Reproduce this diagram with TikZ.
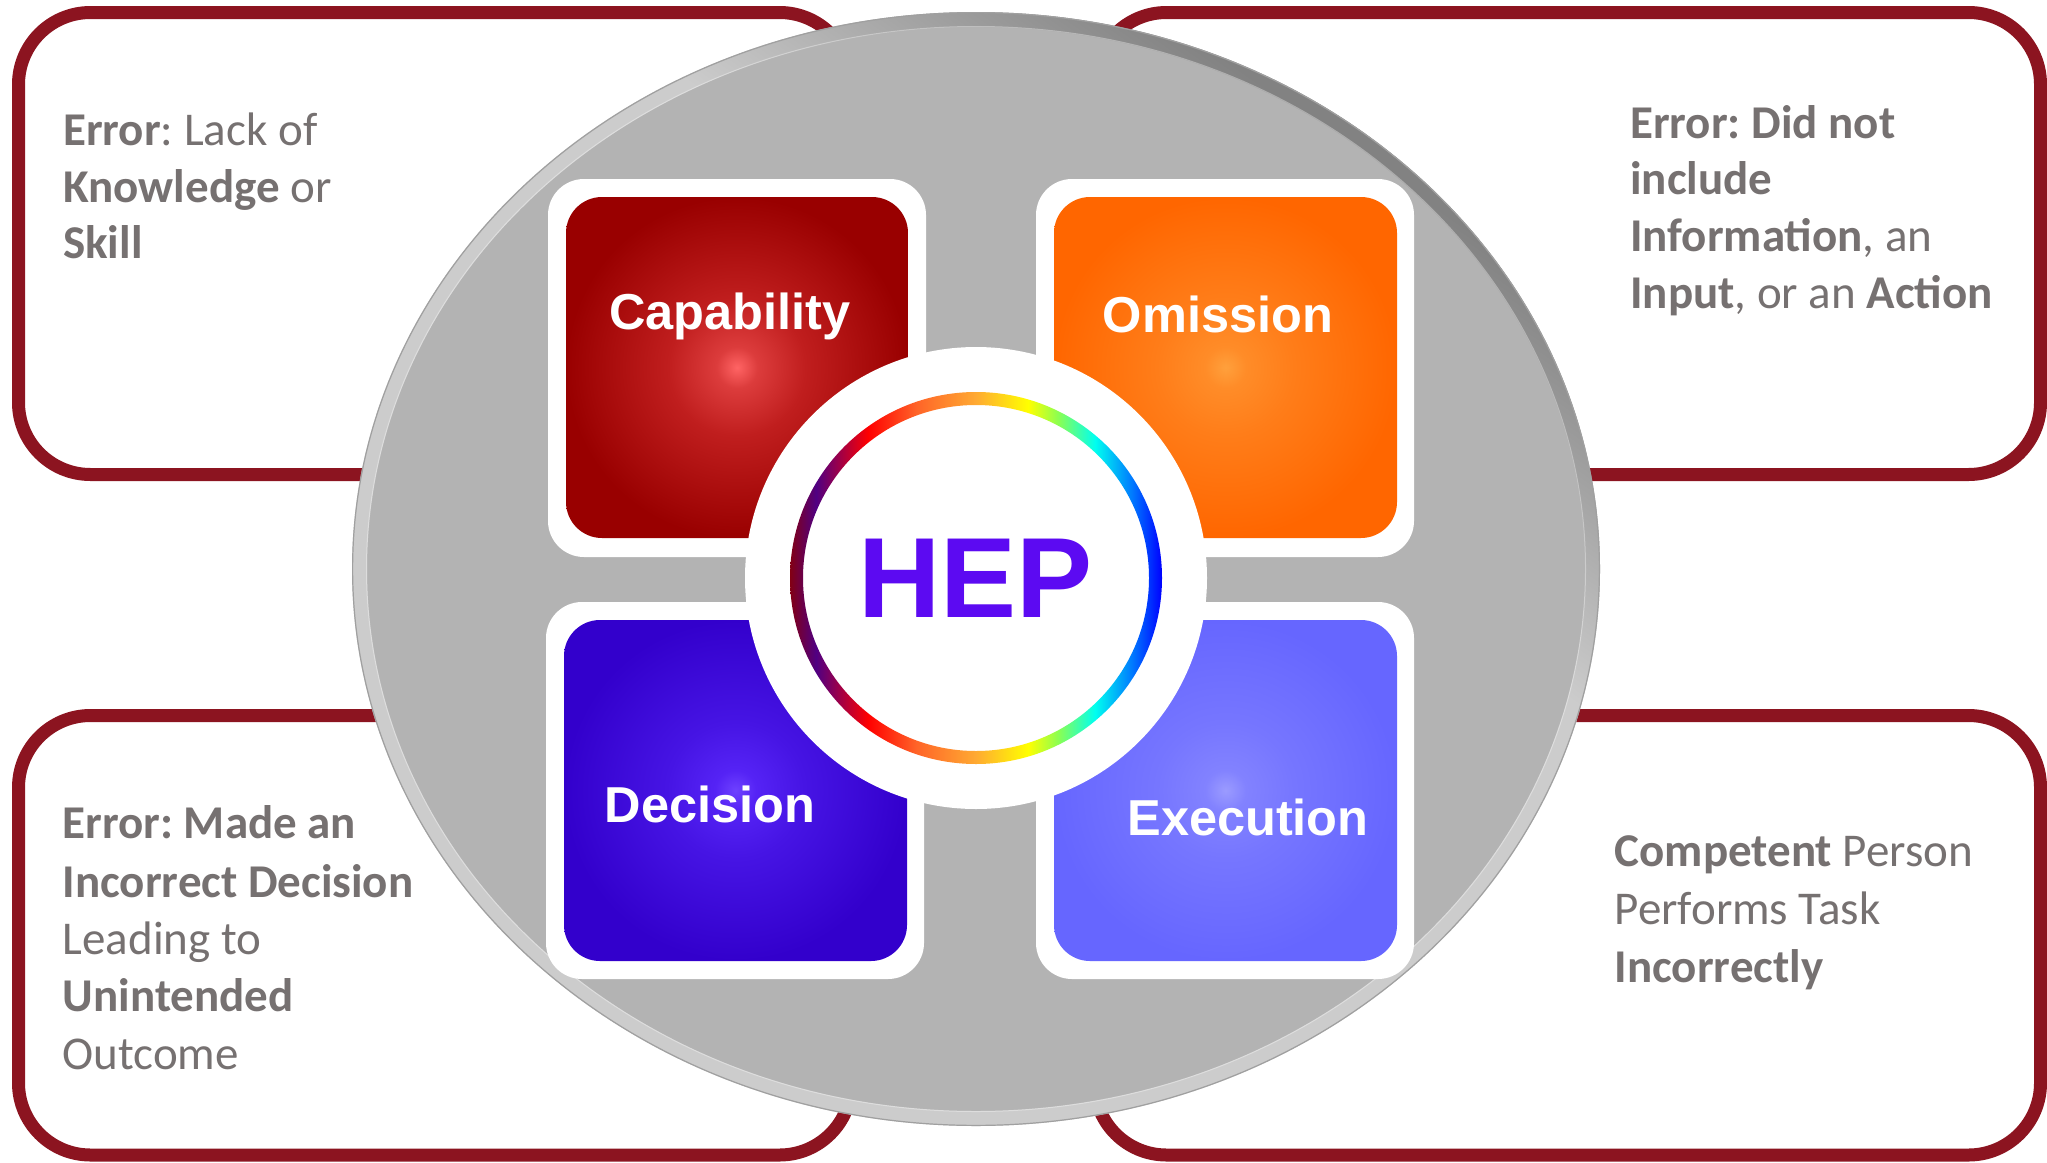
\documentclass[tikz,border=0pt]{standalone}
\usepackage{fontspec}
\setmainfont{Carlito}
\newfontfamily\arialfont{Liberation Sans}
\frenchspacing
\definecolor{boxred}{RGB}{140,20,32}
\definecolor{txtgray}{RGB}{118,113,113}
\definecolor{rimL}{RGB}{204,204,204}
\definecolor{rimD}{RGB}{130,130,130}
\definecolor{rimedge}{RGB}{160,160,160}
\definecolor{discgray}{RGB}{179,179,179}
\definecolor{hepviolet}{RGB}{92,10,242}
\definecolor{capB}{RGB}{153,0,0}\definecolor{capM}{RGB}{192,30,30}\definecolor{capL}{RGB}{220,60,60}\definecolor{capC}{RGB}{255,100,100}
\definecolor{omiB}{RGB}{255,102,0}\definecolor{omiM}{RGB}{255,125,25}\definecolor{omiL}{RGB}{255,140,40}\definecolor{omiC}{RGB}{255,160,60}
\definecolor{decB}{RGB}{51,0,204}\definecolor{decM}{RGB}{70,20,228}\definecolor{decL}{RGB}{85,35,245}\definecolor{decC}{RGB}{110,65,255}
\definecolor{exeB}{RGB}{102,102,255}\definecolor{exeM}{RGB}{118,118,255}\definecolor{exeL}{RGB}{130,130,255}\definecolor{exeC}{RGB}{155,155,255}
\definecolor{rb0}{RGB}{130,0,20}\definecolor{rb1}{RGB}{80,0,130}\definecolor{rb2}{RGB}{255,0,0}
\definecolor{rb3}{RGB}{255,100,40}\definecolor{rb4}{RGB}{255,170,50}\definecolor{rb5}{RGB}{255,255,0}
\definecolor{rb6}{RGB}{140,255,80}\definecolor{rb7}{RGB}{0,255,240}\definecolor{rb8}{RGB}{0,120,255}\definecolor{rb9}{RGB}{0,0,255}
\pgfdeclareradialshading{capsh}{\pgfpoint{0bp}{0bp}}{color(0bp)=(capC); color(3bp)=(capL); color(10bp)=(capM); color(25bp)=(capB); color(50bp)=(capB)}
\pgfdeclareradialshading{omish}{\pgfpoint{0bp}{0bp}}{color(0bp)=(omiC); color(3bp)=(omiL); color(10bp)=(omiM); color(25bp)=(omiB); color(50bp)=(omiB)}
\pgfdeclareradialshading{decsh}{\pgfpoint{0bp}{0bp}}{color(0bp)=(decC); color(3bp)=(decL); color(10bp)=(decM); color(25bp)=(decB); color(50bp)=(decB)}
\pgfdeclareradialshading{exesh}{\pgfpoint{0bp}{0bp}}{color(0bp)=(exeC); color(3bp)=(exeL); color(10bp)=(exeM); color(25bp)=(exeB); color(50bp)=(exeB)}
\pgfdeclarehorizontalshading{rainbowsh}{100bp}{color(0bp)=(rb0); color(25bp)=(rb0); color(28.5bp)=(rb1); color(35.5bp)=(rb2); color(42bp)=(rb3); color(50bp)=(rb4); color(57bp)=(rb5); color(61bp)=(rb6); color(66bp)=(rb7); color(71bp)=(rb8); color(75bp)=(rb9); color(100bp)=(rb9)}
\pgfdeclareverticalshading{rimsh}{100bp}{color(0bp)=(rimL); color(25bp)=(rimL); color(60bp)=(rimL); color(74bp)=(rimD); color(100bp)=(rimD)}
\begin{document}
\begin{tikzpicture}[x=1pt,y=-1pt,
  errbox/.style={draw=boxred, line width=13pt, fill=white, rounded corners=72pt},
  frm/.style={fill=white, rounded corners=36pt},
  tile/.style={rounded corners=36pt},
  lbl/.style={text=white, font=\arialfont\bfseries\fontsize{50.5}{60}\selectfont, anchor=base, inner sep=0pt},
  desc/.style={text=txtgray, font=\fontsize{47}{57}\selectfont, anchor=base west, inner sep=0pt}]
\useasboundingbox (0,0) rectangle (2047,1162);
% error boxes
\draw[errbox] (18.5,12.5) rectangle (851.5,474.5);
\draw[errbox] (18.5,715.5) rectangle (851.5,1155);
\draw[errbox] (1094.5,12.5) rectangle (2040.5,474.5);
\draw[errbox] (1094.5,715.5) rectangle (2040.5,1155);
% grey disc with bevelled rim
\coordinate (dc) at (976,569);
\fill[discgray] (dc) ellipse (612 and 545);
\shade[shading=rimsh, shading angle=-35, even odd rule] (dc) ellipse (624 and 557) (dc) ellipse (609 and 542);
\draw[rimedge, line width=1.2pt] (dc) ellipse (623.4 and 556.4);
\draw[white, opacity=0.35, line width=1pt] (dc) ellipse (609.5 and 542.5);
% white frames
\fill[frm] (548,179) rectangle (926,557);
\fill[frm] (1036,179) rectangle (1414,557);
\fill[frm] (546,602) rectangle (924,979);
\fill[frm] (1036,602) rectangle (1414,979);
% coloured tiles
\shade[tile, shading=capsh] (566,197) rectangle (908,538);
\shade[tile, shading=omish] (1054,197) rectangle (1397,538);
\shade[tile, shading=decsh] (564,620) rectangle (907,961);
\shade[tile, shading=exesh] (1054,620) rectangle (1397,961);
% centre
\coordinate (cc) at (976,578);
\fill[white] (cc) circle (231);
\shade[shading=rainbowsh, even odd rule] (cc) circle (186) (cc) circle (173);
\node[text=hepviolet, font=\arialfont\bfseries\fontsize{114}{130}\selectfont, anchor=base, inner sep=0pt] (hep) at (975.5,617) {HEP};
% tile labels
\node[lbl] (cap) at (730,329) {Capability};
\node[lbl] (omi) at (1218,332) {Omission};
\node[lbl] (dec) at (710,822) {Decision};
\node[lbl] (exe) at (1248,835) {Execution};
% descriptions
\node[desc] (tl1) at (63,145) {\textbf{Error}: Lack of};
\node[desc] (tl2) at (63,202) {\textbf{Knowledge} or};
\node[desc] (tl3) at (63,258) {\textbf{Skill}};
\node[desc] (tr1) at (1630,138) {\textbf{Error: Did not}};
\node[desc] (tr2) at (1630,194) {\textbf{include}};
\node[desc] (tr3) at (1630,251) {\textbf{Information}, an};
\node[desc] (tr4) at (1630,308) {\textbf{Input}, or an \textbf{Action}};
\node[desc] (bl1) at (62.5,838) {\textbf{Error: Made an}};
\node[desc] (bl2) at (62.5,897) {\textbf{Incorrect Decision}};
\node[desc] (bl3) at (62.5,954) {Leading to};
\node[desc] (bl4) at (62.5,1011) {\textbf{Unintended}};
\node[desc] (bl5) at (62.5,1069) {Outcome};
\node[desc] (br1) at (1614.5,866) {\textbf{Competent} Person};
\node[desc] (br2) at (1614.5,924) {Performs Task};
\node[desc] (br3) at (1614.5,982) {\textbf{Incorrectly}};
\end{tikzpicture}
\end{document}
